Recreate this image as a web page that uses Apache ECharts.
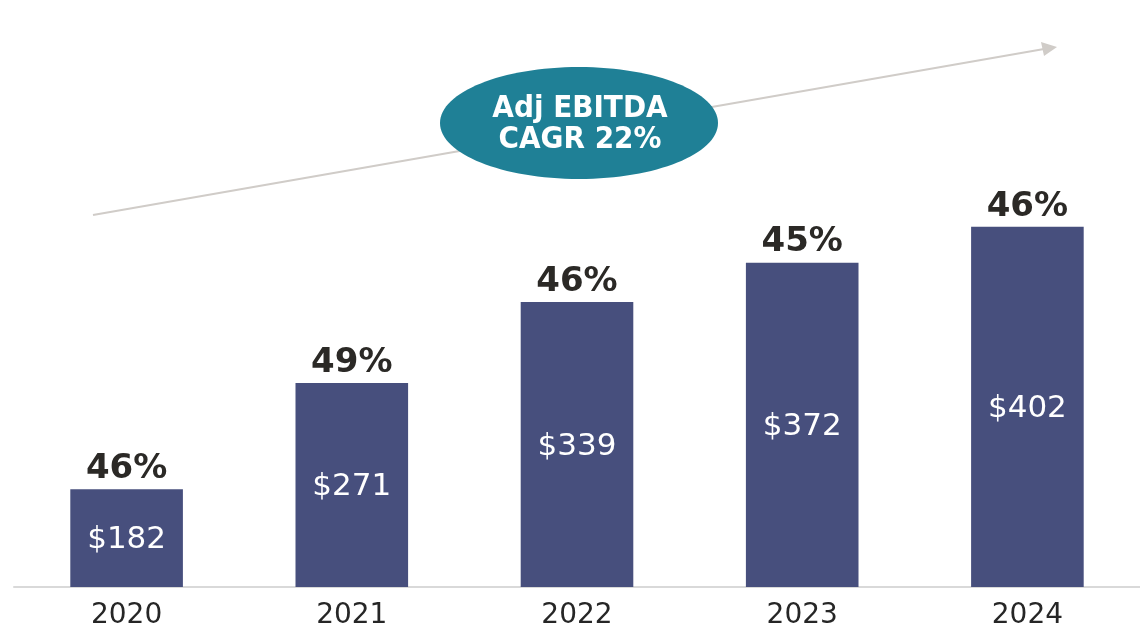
<!DOCTYPE html>
<html>
<head>
<meta charset="utf-8">
<script src="https://cdn.jsdelivr.net/npm/echarts@6/dist/echarts.min.js"></script>
<style>
  html, body { margin: 0; padding: 0; background: #fff; }
  #chart { width: 1140px; height: 637px; }
</style>
</head>
<body>
<div id="chart"></div>
<script>
// years on the x axis
const years = ['2020', '2021', '2022', '2023', '2024']
// Adj EBITDA in $M (inside the bars)
const ebitda = [182, 271, 339, 372, 402]
// margin shown above each bar
const margins = ['46%', '49%', '46%', '45%', '46%']

const barColor = '#474f7d'
const font = 'DejaVu Sans'

let myChart = echarts.init(document.getElementById('chart'))
myChart.setOption({
  animation: false,
  grid: {
    left: 14,
    right: 0,
    top: 110,
    bottom: 50,
    containLabel: false
  },
  xAxis: {
    type: 'category',
    data: years,
    axisTick: { show: false },
    axisLine: { lineStyle: { color: '#d9d9d9', width: 2 } },
    axisLabel: {
      fontFamily: font,
      fontSize: 28,
      color: '#262626',
      margin: 15
    }
  },
  yAxis: {
    type: 'value',
    min: 100,
    max: 500,
    show: false
  },
  graphic: [
    // trend arrow
    {
      type: 'line',
      z: 1,
      shape: { x1: 93, y1: 215, x2: 1044, y2: 49 },
      style: { stroke: '#d0ccc8', lineWidth: 2 }
    },
    {
      type: 'polygon',
      z: 1,
      shape: { points: [[1057, 47], [1041, 42], [1044, 56]] },
      style: { fill: '#d0ccc8' }
    },
    // CAGR bubble
    {
      type: 'ellipse',
      z: 2,
      shape: { cx: 579, cy: 123, rx: 139, ry: 56 },
      style: { fill: '#1f8096' }
    },
    {
      type: 'text',
      z: 3,
      x: 580,
      y: 124,
      style: {
        text: 'Adj EBITDA\nCAGR 22%',
        fill: '#fff',
        fontFamily: 'DejaVu Sans Condensed',
        fontWeight: 'bold',
        fontSize: 31,
        lineHeight: 31,
        align: 'center',
        verticalAlign: 'middle'
      }
    }
  ],
  series: [
    {
      name: 'Adj EBITDA',
      type: 'bar',
      barWidth: '50%',
      data: ebitda,
      itemStyle: { color: barColor },
      label: {
        show: true,
        position: 'inside',
        offset: [0, 2],
        formatter: p => '$' + p.value,
        fontFamily: font,
        fontSize: 31,
        color: '#fff'
      }
    },
    {
      name: 'margin',
      type: 'bar',
      barWidth: '50%',
      barGap: '-100%',
      silent: true,
      data: ebitda,
      itemStyle: { color: 'rgba(0,0,0,0)' },
      label: {
        show: true,
        position: 'top',
        distance: 3,
        formatter: p => margins[p.dataIndex],
        fontFamily: font,
        fontWeight: 'bold',
        fontSize: 34,
        color: '#2b2926'
      }
    }
  ]
})
</script>
</body>
</html>
